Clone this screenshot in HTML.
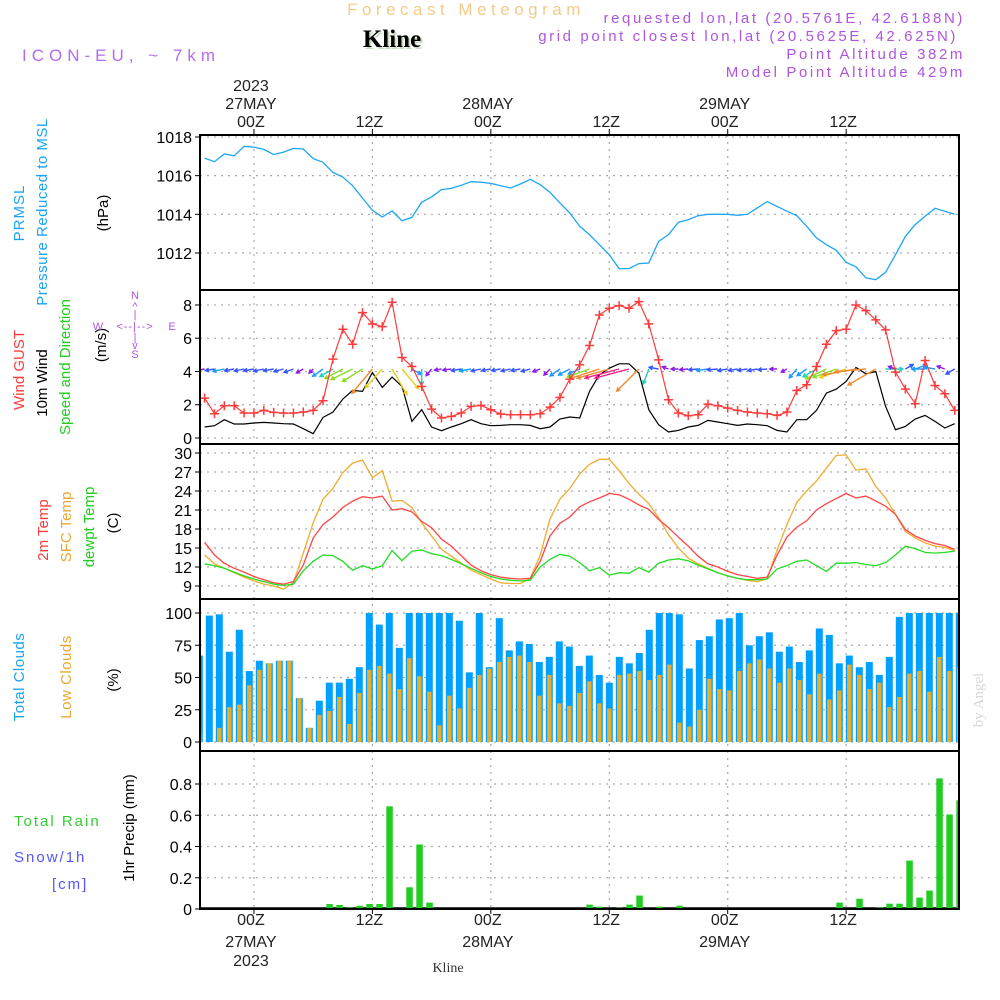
<!DOCTYPE html>
<html><head><meta charset="utf-8"><style>
html,body{margin:0;padding:0;background:#fff;}
svg{display:block;font-family:"Liberation Sans",sans-serif;}
</style></head><body>
<svg id="chart" width="1000" height="1000" viewBox="0 0 1000 1000" xmlns="http://www.w3.org/2000/svg">
<g id="header">
<text x="466" y="15" text-anchor="middle" font-size="17" fill="#f2cc88" letter-spacing="4.5">Forecast Meteogram</text>
<text x="394" y="49" text-anchor="middle" font-family="Liberation Serif,serif" font-weight="bold" font-size="25" fill="#c8dcc0">Kline</text>
<text x="392" y="47" text-anchor="middle" font-family="Liberation Serif,serif" font-weight="bold" font-size="25" fill="#000">Kline</text>
<text x="22" y="61" font-size="17" fill="#b46cf0" letter-spacing="5">ICON-EU, ~ 7km</text>
<g fill="#b055e0" font-size="15" text-anchor="end" letter-spacing="2.6">
<text x="965" y="23">requested lon,lat (20.5761E, 42.6188N)</text>
<text x="958" y="41">grid point closest lon,lat (20.5625E, 42.625N)</text>
<text x="965" y="59">Point Altitude 382m</text>
<text x="965" y="77">Model Point Altitude 429m</text>
</g>
</g>
<g id="grid"></g>
<g id="marks"></g>
<g id="frames"></g>
<g id="labels"></g>
<g id="leftlabels" font-size="15">
<text transform="translate(24,213) rotate(-90)" text-anchor="middle" fill="#19a3f5" letter-spacing="1">PRMSL</text>
<text transform="translate(47,212) rotate(-90)" text-anchor="middle" fill="#19a3f5" letter-spacing="0.5">Pressure Reduced to MSL</text>
<text transform="translate(108,213) rotate(-90)" text-anchor="middle" fill="#000">(hPa)</text>
<text transform="translate(24,370) rotate(-90)" text-anchor="middle" fill="#ff3b3b">Wind GUST</text>
<text transform="translate(47,383) rotate(-90)" text-anchor="middle" fill="#000">10m Wind</text>
<text transform="translate(70,367) rotate(-90)" text-anchor="middle" fill="#22cc22">Speed and Direction</text>
<text transform="translate(106,345) rotate(-90)" text-anchor="middle" fill="#000">(m/s)</text>
<text transform="translate(48,530) rotate(-90)" text-anchor="middle" fill="#ff3b3b">2m Temp</text>
<text transform="translate(71,527) rotate(-90)" text-anchor="middle" fill="#eaa830">SFC Temp</text>
<text transform="translate(94,527) rotate(-90)" text-anchor="middle" fill="#22cc22">dewpt Temp</text>
<text transform="translate(118,523) rotate(-90)" text-anchor="middle" fill="#000">(C)</text>
<text transform="translate(24,677) rotate(-90)" text-anchor="middle" fill="#19a3f5" letter-spacing="0.5">Total Clouds</text>
<text transform="translate(71,677) rotate(-90)" text-anchor="middle" fill="#eaa830" letter-spacing="0.5">Low Clouds</text>
<text transform="translate(118,680) rotate(-90)" text-anchor="middle" fill="#000">(%)</text>
<text x="14" y="826" fill="#33cc33" letter-spacing="2">Total  Rain</text>
<text x="14" y="862" fill="#5555ff" letter-spacing="2">Snow/1h</text>
<text x="52" y="889" fill="#5555ff" letter-spacing="2">[cm]</text>
<text transform="translate(134,828) rotate(-90)" text-anchor="middle" fill="#000">1hr Precip (mm)</text>
<g fill="#b055e0" font-size="11" text-anchor="middle">
<text x="135" y="299">N</text><text x="135" y="310">^</text><text x="135" y="318">|</text>
<text x="98" y="330">W</text><text x="135" y="330" letter-spacing="1">&lt;--|--&gt;</text><text x="172" y="330">E</text>
<text x="135" y="341">|</text><text x="135" y="349">v</text><text x="135" y="358">S</text>
</g>
<text transform="translate(983,700) rotate(-90)" text-anchor="middle" font-family="Liberation Serif,serif" font-size="15" fill="#d8d8d8">by Angel</text>
<text x="448" y="972" text-anchor="middle" font-family="Liberation Serif,serif" font-size="14" fill="#333">Kline</text>
</g>
</svg>
<script>
const pressure=[1016.91,1016.72,1017.12,1017.03,1017.52,1017.48,1017.36,1017.09,1017.22,1017.41,1017.38,1016.88,1016.69,1016.17,1015.93,1015.48,1014.84,1014.21,1013.86,1014.17,1013.67,1013.84,1014.62,1014.9,1015.28,1015.34,1015.5,1015.69,1015.66,1015.6,1015.48,1015.36,1015.57,1015.81,1015.53,1015.14,1014.59,1014.07,1013.38,1012.95,1012.43,1011.91,1011.19,1011.19,1011.45,1011.48,1012.6,1012.95,1013.59,1013.72,1013.93,1014.0,1014.0,1014.0,1013.95,1014.0,1014.33,1014.66,1014.41,1014.16,1013.93,1013.38,1012.78,1012.43,1012.14,1011.52,1011.28,1010.71,1010.62,1011.0,1011.91,1012.86,1013.47,1013.9,1014.31,1014.16,1014.0];
const gust=[2.4,1.46,1.94,1.94,1.5,1.5,1.66,1.54,1.5,1.5,1.56,1.66,2.24,4.74,6.54,5.64,7.54,6.86,6.7,8.16,4.84,4.3,3.1,1.74,1.2,1.3,1.5,1.9,1.96,1.7,1.44,1.4,1.4,1.4,1.46,1.86,2.44,3.54,4.4,5.56,7.4,7.8,7.96,7.8,8.2,6.86,4.7,2.3,1.5,1.34,1.4,2.04,1.94,1.8,1.66,1.56,1.5,1.46,1.36,1.56,2.86,3.2,4.3,5.64,6.46,6.54,8.0,7.66,7.1,6.5,3.96,2.94,2.06,4.66,3.16,2.66,1.66];
const wind10m=[0.66,0.74,1.1,0.84,0.84,0.9,0.94,0.9,0.86,0.84,0.56,0.26,1.24,1.56,2.34,2.86,2.8,3.94,3.04,3.66,3.1,1.0,1.7,0.66,0.44,0.66,0.86,1.1,0.86,0.74,0.76,0.8,0.8,0.76,0.56,0.66,1.14,1.26,1.2,2.8,3.8,4.2,4.46,4.46,3.9,1.7,0.8,0.36,0.46,0.66,0.76,1.06,0.96,0.86,0.76,0.84,0.8,0.74,0.46,0.36,1.1,1.1,1.66,2.7,2.94,3.4,4.24,3.86,4.0,1.9,0.5,0.7,1.14,1.36,1.0,0.6,0.86];
const windFrom=[80,80,78,80,78,80,78,80,75,70,60,45,55,60,62,64,58,40,42,330,320,300,0,40,80,82,80,80,78,80,80,78,80,75,70,45,55,62,66,70,72,74,75,75,45,20,100,110,90,85,85,82,85,80,80,82,80,85,90,60,40,55,60,65,70,72,80,85,60,270,110,240,250,90,100,110,60];
const temp2m=[15.9,13.9,12.6,11.8,11.2,10.5,10.0,9.5,9.3,9.7,12.3,16.6,18.7,19.9,21.4,22.4,23.1,22.9,23.2,21.0,21.2,20.7,19.2,18.2,16.4,15.3,13.8,12.3,11.4,10.8,10.4,10.2,10.1,10.2,12.9,16.9,18.9,19.9,21.5,22.3,22.9,23.6,23.4,22.7,21.8,21.1,19.5,18.2,16.7,15.3,13.7,12.5,12.0,11.3,10.8,10.5,10.2,10.4,13.9,16.7,18.3,19.3,21.0,22.0,22.8,23.6,22.9,23.2,22.4,21.6,20.3,17.9,16.9,16.2,15.7,15.4,14.8];
const sfcTemp=[13.9,12.5,11.8,11.1,10.4,9.8,9.3,9.0,8.5,9.5,14.2,19.0,22.7,24.4,26.9,28.4,28.9,26.1,27.2,22.4,22.5,21.4,19.0,16.9,14.8,13.7,12.6,11.5,10.8,10.1,9.5,9.4,9.4,10.2,13.9,19.6,22.7,24.4,26.7,28.2,29.0,29.0,27.2,25.2,23.5,22.0,19.8,17.1,15.0,13.4,12.5,11.8,11.1,10.6,10.2,9.9,9.7,10.1,14.7,18.7,22.2,24.0,25.6,27.6,29.6,29.7,27.3,27.5,24.7,22.9,20.3,17.6,16.6,15.8,15.3,15.1,14.6];
const dewpt=[12.5,12.2,11.8,11.2,10.6,10.1,9.7,9.3,9.1,9.3,11.4,12.9,13.9,13.8,12.9,11.5,12.2,11.7,12.2,14.6,13.0,14.5,14.7,14.1,13.8,13.2,12.5,11.8,11.1,10.5,10.1,9.9,9.8,9.9,12.0,13.2,14.0,13.7,12.7,11.4,11.9,10.7,11.1,11.0,11.9,11.2,12.6,13.1,13.3,13.0,12.3,11.7,11.1,10.6,10.2,10.0,10.0,10.1,11.7,12.2,12.9,13.1,12.2,11.3,12.6,12.6,12.7,12.4,12.2,12.7,13.9,15.3,14.9,14.3,14.2,14.3,14.5];
const totalClouds=[67,98,99,70,87,55,63,61,63,63,34,11,32,46,46,49,58,100,91,100,73,100,100,100,100,100,94,54,100,58,96,71,78,76,62,66,78,74,59,67,52,46,66,61,69,87,100,100,99,57,79,82,95,96,100,75,82,85,70,74,62,71,88,83,61,67,58,62,52,66,97,100,100,100,100,100,100];
const lowClouds=[6,0,11,27,29,44,56,61,63,63,34,11,21,24,35,14,38,56,59,53,41,65,51,39,13,36,26,42,52,57,62,66,67,62,36,52,30,28,38,47,30,26,52,53,55,48,52,60,15,12,25,49,41,40,55,61,64,57,46,57,48,37,53,33,40,60,52,41,46,27,35,53,55,39,66,55,58];
const precipIdx=[13,14,15,16,17,18,19,21,22,23,39,40,42,43,44,46,48,64,66,68,69,70,71,72,73,74,75,76];
const precipVal=[0.032,0.026,0.009,0.021,0.032,0.032,0.657,0.139,0.413,0.041,0.028,0.015,0.009,0.028,0.086,0.015,0.021,0.041,0.066,0.009,0.034,0.034,0.31,0.073,0.118,0.836,0.605,0.695];
const timeTickHours=[0,12,24,36,48,60];
const timeTickTop=[["2023","27MAY","00Z"],["","","12Z"],["","28MAY","00Z"],["","","12Z"],["","29MAY","00Z"],["","","12Z"]];
const timeTickBottom=[["00Z","27MAY","2023"],["12Z"],["00Z","28MAY"],["12Z"],["00Z","29MAY"],["12Z"]];
const pTicks=[1012,1014,1016,1018];
const wTicks=[0,2,4,6,8];
const tTicks=[9,12,15,18,21,24,27,30];
const cTicks=[0,25,50,75,100];
const rTicks=[0,0.2,0.4,0.6,0.8];
const rTickLabels=["0","0.2","0.4","0.6","0.8"];

const NS="http://www.w3.org/2000/svg";
const X0=200,X1=959;
const xt=k=>204.6+9.87*k;
const xh=h=>xt(h+5);
const xb=i=>199.3+10*i;
const yP=v=>137+(1018-v)*19.33;
const yW=v=>438-v*16.63;
const yT=v=>586-(v-9)*6.333;
const yC=v=>742-v*1.29;
const yR=v=>909-v*156.25;
const panels=[[135,290],[290,444],[444,599],[599,751],[751,909]];

function mk(tag,attrs,parent){const e=document.createElementNS(NS,tag);for(const a in attrs)e.setAttribute(a,attrs[a]);parent.appendChild(e);return e;}
const gGrid=document.getElementById('grid'),gMarks=document.getElementById('marks'),gFr=document.getElementById('frames'),gLab=document.getElementById('labels');

timeTickHours.forEach(h=>{
  const l=mk('line',{x1:xh(h),x2:xh(h),y1:135,y2:909,stroke:'#aaa','stroke-width':1.2,'stroke-dasharray':'2,5'},gGrid);
  
  
});
function yAxis(ticks,labels,f,name){
  ticks.forEach((t,i)=>{
    const y=f(t);
    const g=mk('line',{x1:X0,x2:X1,y1:y,y2:y,stroke:'#aaa','stroke-width':1.2,'stroke-dasharray':'2,5'},gGrid);
    
    
    mk('line',{x1:X0-5,x2:X0,y1:y,y2:y,stroke:'#000','stroke-width':1},gLab);
    const tx=mk('text',{x:X0-8,y:y+6,'text-anchor':'end','font-size':16,fill:'#000'},gLab);
    tx.textContent=labels[i];
    
    
  });
}
yAxis(pTicks,pTicks.map(String),yP,'pressure');
yAxis(wTicks,wTicks.map(String),yW,'wind');
yAxis(tTicks,tTicks.map(String),yT,'temp');
yAxis(cTicks,cTicks.map(String),yC,'cloud');
yAxis(rTicks,rTickLabels,yR,'precip');

timeTickHours.forEach((h,i)=>{
  const x=xh(h);
  mk('line',{x1:x,x2:x,y1:129,y2:135,stroke:'#000'},gLab);
  mk('line',{x1:x,x2:x,y1:909,y2:914,stroke:'#000'},gLab);
  const top=timeTickTop[i];
  [91,109,127].forEach((y,j)=>{ if(top[j]){const t=mk('text',{x:x-3,y:y,'text-anchor':'middle','font-size':16,fill:'#222'},gLab);t.textContent=top[j];
    
    }});
  const bot=timeTickBottom[i];
  [925,947,966].forEach((y,j)=>{ if(bot[j]){const t=mk('text',{x:x-3,y:y,'text-anchor':'middle','font-size':16,fill:'#222'},gLab);t.textContent=bot[j];
    
    }});
});

const defs=mk('defs',{},gMarks);
const cp=mk('clipPath',{id:'plotclip'},defs);
mk('rect',{x:X0+1,y:135,width:X1-X0-1,height:774},cp);
const gm=mk('g',{'clip-path':'url(#plotclip)'},gMarks);

function line(vals,f,color,name,w){
  const p=mk('polyline',{points:vals.map((v,k)=>xt(k).toFixed(1)+','+f(v).toFixed(1)).join(' '),fill:'none',stroke:color,'stroke-width':w||1.3},gm);
  
  
}
line(pressure,yP,'#1ca6f7','pressure-line');
totalClouds.forEach((v,i)=>{
  const r=mk('rect',{x:xb(i)-3.5,y:yC(v),width:7,height:yC(0)-yC(v),fill:'#00a0ff'},gm);
  
  
});
lowClouds.forEach((v,i)=>{
  const r=mk('rect',{x:xb(i)-2.2,y:yC(v),width:4.4,height:yC(0)-yC(v),fill:'#e8ad2e'},gm);
  
  
});
mk('line',{x1:X0,x2:X1,y1:908,y2:908,stroke:'#000','stroke-width':1.5},gm);
precipIdx.forEach((i,j)=>{
  const v=precipVal[j];
  const r=mk('rect',{x:xb(i)-3,y:yR(v),width:6.5,height:yR(0)-yR(v),fill:'#22cc22'},gm);
  
  
});
line(sfcTemp,yT,'#eeac30','sfc-temp-line');
line(temp2m,yT,'#ff4444','temp-2m-line');
line(dewpt,yT,'#22dd22','dewpt-line');
line(wind10m,yW,'#000','wind-10m-line',1.2);
function arrowColor(s){return s<0.7?'#8a1ee6':s<1.0?'#3355ff':s<1.5?'#1a9cff':s<2.2?'#20d0c0':s<3?'#88dd22':s<3.7?'#e8d020':s<4.3?'#f08a30':'#ee2288';}
wind10m.forEach((s,k)=>{
  const x=xt(k),y=yW(4.15),L=4+s*7,a=windFrom[k]*Math.PI/180;
  const dx=-Math.sin(a)*L,dy=Math.cos(a)*L;
  const ex=x+dx,ey=y+dy,ang=Math.atan2(dy,dx),h=4;
  const c=arrowColor(s);
  const g=mk('path',{d:`M${x.toFixed(1)},${y.toFixed(1)}L${ex.toFixed(1)},${ey.toFixed(1)}M${(ex-h*Math.cos(ang-0.5)).toFixed(1)},${(ey-h*Math.sin(ang-0.5)).toFixed(1)}L${ex.toFixed(1)},${ey.toFixed(1)}L${(ex-h*Math.cos(ang+0.5)).toFixed(1)},${(ey-h*Math.sin(ang+0.5)).toFixed(1)}`,stroke:c,'stroke-width':1.4,fill:'none'},gm);
  
  
});
line(gust,yW,'#ff3b3b','gust-line',1.2);
gust.forEach((v,k)=>{
  const x=xt(k),y=yW(v);
  const m=mk('path',{d:`M${x-4.5},${y}h9M${x},${y-4.5}v9`,stroke:'#ff3b3b','stroke-width':1.5},gm);
  
  
});
panels.forEach(([a,b],i)=>{
  const r=mk('rect',{x:X0,y:a,width:X1-X0,height:b-a,fill:'none',stroke:'#000','stroke-width':2},gFr);
  
  
});
</script>
</body></html>
